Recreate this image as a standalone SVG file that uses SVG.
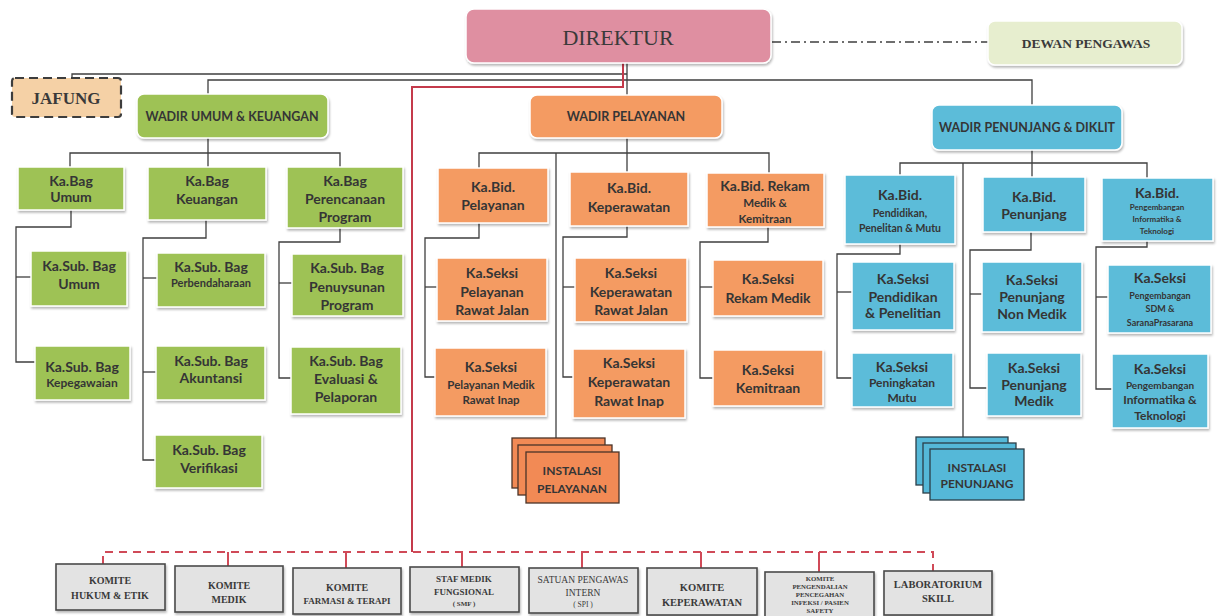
<svg xmlns="http://www.w3.org/2000/svg" width="1219" height="616" viewBox="0 0 1219 616">
<defs>
<filter id="sh" x="-10%" y="-10%" width="125%" height="140%">
<feDropShadow dx="1" dy="2" stdDeviation="1.2" flood-color="#000" flood-opacity="0.28"/>
</filter>
<style>
.g{fill:#9ec254;stroke:#fff;stroke-width:1.5;filter:url(#sh)}
.o{fill:#f49b62;stroke:#fff;stroke-width:1.5;filter:url(#sh)}
.b{fill:#5cbcd9;stroke:#fff;stroke-width:1.5;filter:url(#sh)}
.oi{fill:#f28a55;stroke:#4a3428;stroke-width:1.3}
.bi{fill:#55b8d8;stroke:#2c3e48;stroke-width:1.3}
.k{fill:#e3e3e3;stroke:#4a4a4a;stroke-width:1.6;filter:url(#sh)}
.t{font-family:Lato,"Open Sans",sans-serif;font-weight:700;fill:#353535;text-anchor:middle}
.s{font-family:"Liberation Serif","DejaVu Serif",serif;font-weight:700;fill:#3a3a3a;text-anchor:middle}
.sr{font-family:"Liberation Serif","DejaVu Serif",serif;fill:#3a3a3a;text-anchor:middle}
.ln{fill:none;stroke:#3f3f3f;stroke-width:1.3}
</style>
</defs>
<rect width="1219" height="616" fill="#ffffff"/>

<g id="connectors">
<polyline class="ln" points="627,63 627,95"/>
<polyline class="ln" points="72,78 72,74 627,74"/>
<polyline class="ln" points="208,94 208,80 1032,80 1032,105"/>
<polyline fill="none" stroke="#c43a4b" stroke-width="2" points="623,63 623,87 412,87 412,552"/>
<line x1="772" y1="42" x2="988" y2="42" stroke="#3f3f3f" stroke-width="1.5" stroke-dasharray="9,4,2,4"/>
<g fill="none" stroke="#d04a58" stroke-width="2" stroke-dasharray="8,6">
<polyline points="103,564 103,552 933,552 933,571"/>
</g>
<g fill="none" stroke="#d04a58" stroke-width="2">
<line x1="228" y1="552" x2="228" y2="566"/>
<line x1="346" y1="552" x2="346" y2="568"/>
<line x1="462" y1="552" x2="462" y2="567"/>
<line x1="582" y1="552" x2="582" y2="568"/>
<line x1="701" y1="552" x2="701" y2="568"/>
<line x1="819" y1="552" x2="819" y2="572"/>
</g>
<!-- left -->
<polyline class="ln" points="208,138 208,153"/>
<polyline class="ln" points="70,167 70,153 340,153 340,167"/>
<polyline class="ln" points="208,153 208,167"/>
<polyline class="ln" points="71,210 71,227 16,227 16,362 35,362"/>
<polyline class="ln" points="16,277 31,277"/>
<polyline class="ln" points="206,220 206,238 143,238 143,460 155,460"/>
<polyline class="ln" points="143,278 157,278"/>
<polyline class="ln" points="143,372 156,372"/>
<polyline class="ln" points="340,228 340,242 279,242 279,378 291,378"/>
<polyline class="ln" points="279,283 292,283"/>
<!-- middle -->
<polyline class="ln" points="627,138 627,153"/>
<polyline class="ln" points="479,168 479,153 769,153 769,173"/>
<polyline class="ln" points="627,153 627,172"/>
<polyline class="ln" points="556,153 556,438"/>
<polyline class="ln" points="479,223 479,238 425,238 425,377 435,377"/>
<polyline class="ln" points="425,287 437,287"/>
<polyline class="ln" points="627,226 627,237 563,237 563,377 573,377"/>
<polyline class="ln" points="563,287 575,287"/>
<polyline class="ln" points="768,227 768,242 700,242 700,378 713,378"/>
<polyline class="ln" points="700,287 713,287"/>
<!-- right -->
<polyline class="ln" points="1032,150 1032,163"/>
<polyline class="ln" points="900,175 900,163 1147,163 1147,178"/>
<polyline class="ln" points="1032,163 1032,177"/>
<polyline class="ln" points="963,163 963,437"/>
<polyline class="ln" points="900,244 900,254 837,254 837,378 852,378"/>
<polyline class="ln" points="837,292 852,292"/>
<polyline class="ln" points="1031,232 1031,250 970,250 970,388 987,388"/>
<polyline class="ln" points="970,294 982,294"/>
<polyline class="ln" points="1147,241 1147,247 1096,247 1096,389 1112,389"/>
<polyline class="ln" points="1096,297 1108,297"/>
</g>

<g id="direktur">
<rect x="466" y="9" width="305" height="54" rx="8" fill="#df8fa1" stroke="#fff" stroke-width="1.5" filter="url(#sh)"/>
<text class="sr" x="618" y="45" font-size="22" fill="#4a3a3e">DIREKTUR</text>
</g>
<g id="dewan-pengawas">
<rect x="988" y="21" width="194" height="44" rx="7" fill="#e7eecf" stroke="#fff" stroke-width="1.5" filter="url(#sh)"/>
<text class="s" x="1086" y="48" font-size="13.5">DEWAN PENGAWAS</text>
</g>
<g id="jafung">
<rect x="12" y="78" width="109" height="39" rx="3" fill="#f5d1a6" stroke="#3d3d3d" stroke-width="2.2" stroke-dasharray="9,5"/>
<text class="s" x="66" y="104" font-size="17">JAFUNG</text>
</g>
<g id="wadir-umum">
<rect x="137" y="94" width="191" height="44" rx="7" class="g"/>
<text class="t" x="232" y="121" font-size="12.5">WADIR UMUM &amp; KEUANGAN</text>
</g>
<g id="wadir-pelayanan">
<rect x="530" y="95" width="192" height="43" rx="7" class="o"/>
<text class="t" x="626" y="121" font-size="12.5">WADIR PELAYANAN</text>
</g>
<g id="wadir-penunjang">
<rect x="932" y="105" width="190" height="45" rx="7" class="b"/>
<text class="t" x="1027" y="132" font-size="12.5">WADIR PENUNJANG &amp; DIKLIT</text>
</g>

<!-- left column -->
<g id="kabag-umum">
<rect x="18" y="167" width="106" height="43" class="g"/>
<text class="t" x="71" y="186" font-size="14">Ka.Bag</text>
<text class="t" x="71" y="202" font-size="14">Umum</text>
</g>
<g id="kabag-keuangan">
<rect x="148" y="167" width="118" height="53" class="g"/>
<text class="t" x="207" y="186" font-size="14">Ka.Bag</text>
<text class="t" x="207" y="204" font-size="14">Keuangan</text>
</g>
<g id="kabag-perencanaan">
<rect x="287" y="167" width="116" height="61" class="g"/>
<text class="t" x="345" y="186" font-size="14">Ka.Bag</text>
<text class="t" x="345" y="204" font-size="14">Perencanaan</text>
<text class="t" x="345" y="222" font-size="14">Program</text>
</g>
<g id="kasubbag-umum">
<rect x="31" y="251" width="96" height="55" class="g"/>
<text class="t" x="79" y="271" font-size="14">Ka.Sub. Bag</text>
<text class="t" x="79" y="289" font-size="14">Umum</text>
</g>
<g id="kasubbag-kepegawaian">
<rect x="35" y="346" width="95" height="54" class="g"/>
<text class="t" x="82" y="372" font-size="14">Ka.Sub. Bag</text>
<text class="t" x="82" y="387" font-size="12">Kepegawaian</text>
</g>
<g id="kasubbag-perbendaharaan">
<rect x="157" y="253" width="108" height="54" class="g"/>
<text class="t" x="211" y="272" font-size="14">Ka.Sub. Bag</text>
<text class="t" x="211" y="287" font-size="11">Perbendaharaan</text>
</g>
<g id="kasubbag-akuntansi">
<rect x="156" y="346" width="109" height="54" class="g"/>
<text class="t" x="211" y="366" font-size="14">Ka.Sub. Bag</text>
<text class="t" x="211" y="383" font-size="14">Akuntansi</text>
</g>
<g id="kasubbag-verifikasi">
<rect x="155" y="435" width="107" height="53" class="g"/>
<text class="t" x="209" y="455" font-size="14">Ka.Sub. Bag</text>
<text class="t" x="209" y="473" font-size="14">Verifikasi</text>
</g>
<g id="kasubbag-penyusunan">
<rect x="292" y="254" width="111" height="62" class="g"/>
<text class="t" x="347" y="273" font-size="14">Ka.Sub. Bag</text>
<text class="t" x="347" y="292" font-size="14">Penuysunan</text>
<text class="t" x="347" y="310" font-size="14">Program</text>
</g>
<g id="kasubbag-evaluasi">
<rect x="291" y="347" width="110" height="67" class="g"/>
<text class="t" x="346" y="366" font-size="14">Ka.Sub. Bag</text>
<text class="t" x="346" y="384" font-size="14">Evaluasi &amp;</text>
<text class="t" x="346" y="402" font-size="14">Pelaporan</text>
</g>

<!-- middle column -->
<g id="kabid-pelayanan">
<rect x="438" y="168" width="110" height="55" class="o"/>
<text class="t" x="493" y="192" font-size="14">Ka.Bid.</text>
<text class="t" x="493" y="210" font-size="14">Pelayanan</text>
</g>
<g id="kabid-keperawatan">
<rect x="570" y="172" width="118" height="54" class="o"/>
<text class="t" x="629" y="193" font-size="14">Ka.Bid.</text>
<text class="t" x="629" y="212" font-size="14">Keperawatan</text>
</g>
<g id="kabid-rekam">
<rect x="707" y="173" width="117" height="54" class="o"/>
<text class="t" x="765" y="191" font-size="14">Ka.Bid. Rekam</text>
<text class="t" x="765" y="207" font-size="11.5">Medik &amp;</text>
<text class="t" x="765" y="223" font-size="11.5">Kemitraan</text>
</g>
<g id="kaseksi-pelayanan-rj">
<rect x="437" y="258" width="110" height="63" class="o"/>
<text class="t" x="492" y="278" font-size="14">Ka.Seksi</text>
<text class="t" x="492" y="297" font-size="14">Pelayanan</text>
<text class="t" x="492" y="315" font-size="14">Rawat Jalan</text>
</g>
<g id="kaseksi-pelayanan-ri">
<rect x="435" y="348" width="111" height="68" class="o"/>
<text class="t" x="491" y="372" font-size="14">Ka.Seksi</text>
<text class="t" x="491" y="389" font-size="11.5">Pelayanan Medik</text>
<text class="t" x="491" y="404" font-size="11.5">Rawat Inap</text>
</g>
<g id="kaseksi-keperawatan-rj">
<rect x="575" y="258" width="112" height="64" class="o"/>
<text class="t" x="631" y="278" font-size="14">Ka.Seksi</text>
<text class="t" x="631" y="297" font-size="14">Keperawatan</text>
<text class="t" x="631" y="315" font-size="14">Rawat Jalan</text>
</g>
<g id="kaseksi-keperawatan-ri">
<rect x="573" y="349" width="112" height="69" class="o"/>
<text class="t" x="629" y="368" font-size="14">Ka.Seksi</text>
<text class="t" x="629" y="387" font-size="14">Keperawatan</text>
<text class="t" x="629" y="406" font-size="14">Rawat Inap</text>
</g>
<g id="kaseksi-rekam-medik">
<rect x="713" y="260" width="110" height="56" class="o"/>
<text class="t" x="768" y="284" font-size="14">Ka.Seksi</text>
<text class="t" x="768" y="303" font-size="14">Rekam Medik</text>
</g>
<g id="kaseksi-kemitraan">
<rect x="713" y="350" width="110" height="56" class="o"/>
<text class="t" x="768" y="375" font-size="14">Ka.Seksi</text>
<text class="t" x="768" y="393" font-size="14">Kemitraan</text>
</g>
<g id="instalasi-pelayanan">
<rect x="512" y="438" width="93" height="50" class="oi"/>
<rect x="518" y="445" width="94" height="50" class="oi"/>
<rect x="526" y="452" width="93" height="51" class="oi"/>
<text class="t" x="572" y="475" font-size="12">INSTALASI</text>
<text class="t" x="572" y="493" font-size="12">PELAYANAN</text>
</g>

<!-- right column -->
<g id="kabid-pendidikan">
<rect x="845" y="175" width="110" height="69" class="b"/>
<text class="t" x="900" y="200" font-size="14">Ka.Bid.</text>
<text class="t" x="900" y="217" font-size="10.5">Pendidikan,</text>
<text class="t" x="900" y="232" font-size="10.5">Penelitan &amp; Mutu</text>
</g>
<g id="kabid-penunjang">
<rect x="983" y="177" width="102" height="55" class="b"/>
<text class="t" x="1034" y="202" font-size="14">Ka.Bid.</text>
<text class="t" x="1034" y="219" font-size="14">Penunjang</text>
</g>
<g id="kabid-pengembangan">
<rect x="1102" y="178" width="111" height="63" class="b"/>
<text class="t" x="1157" y="198" font-size="14">Ka.Bid.</text>
<text class="t" x="1157" y="210" font-size="8">Pengembangan</text>
<text class="t" x="1157" y="222" font-size="8">Informatika &amp;</text>
<text class="t" x="1157" y="234" font-size="8">Teknologi</text>
</g>
<g id="kaseksi-pendidikan">
<rect x="852" y="262" width="102" height="68" class="b"/>
<text class="t" x="903" y="284" font-size="14">Ka.Seksi</text>
<text class="t" x="903" y="302" font-size="14">Pendidikan</text>
<text class="t" x="903" y="318" font-size="14">&amp; Penelitian</text>
</g>
<g id="kaseksi-mutu">
<rect x="852" y="353" width="101" height="54" class="b"/>
<text class="t" x="902" y="372" font-size="14">Ka.Seksi</text>
<text class="t" x="902" y="387" font-size="12">Peningkatan</text>
<text class="t" x="902" y="402" font-size="12">Mutu</text>
</g>
<g id="kaseksi-nonmedik">
<rect x="982" y="262" width="100" height="70" class="b"/>
<text class="t" x="1032" y="285" font-size="14">Ka.Seksi</text>
<text class="t" x="1032" y="302" font-size="14">Penunjang</text>
<text class="t" x="1032" y="319" font-size="14">Non Medik</text>
</g>
<g id="kaseksi-medik">
<rect x="987" y="353" width="94" height="63" class="b"/>
<text class="t" x="1034" y="373" font-size="14">Ka.Seksi</text>
<text class="t" x="1034" y="390" font-size="14">Penunjang</text>
<text class="t" x="1034" y="406" font-size="14">Medik</text>
</g>
<g id="kaseksi-sdm">
<rect x="1108" y="265" width="103" height="68" class="b"/>
<text class="t" x="1160" y="283" font-size="14">Ka.Seksi</text>
<text class="t" x="1160" y="299" font-size="9">Pengembangan</text>
<text class="t" x="1160" y="312" font-size="9">SDM &amp;</text>
<text class="t" x="1160" y="326" font-size="9">SaranaPrasarana</text>
</g>
<g id="kaseksi-informatika">
<rect x="1112" y="354" width="96" height="74" class="b"/>
<text class="t" x="1160" y="374" font-size="14">Ka.Seksi</text>
<text class="t" x="1160" y="389" font-size="10">Pengembangan</text>
<text class="t" x="1160" y="404" font-size="12">Informatika &amp;</text>
<text class="t" x="1160" y="420" font-size="12">Teknologi</text>
</g>
<g id="instalasi-penunjang">
<rect x="916" y="437" width="92" height="48" class="bi"/>
<rect x="923" y="443" width="93" height="50" class="bi"/>
<rect x="930" y="449" width="94" height="51" class="bi"/>
<text class="t" x="977" y="472" font-size="12">INSTALASI</text>
<text class="t" x="977" y="488" font-size="12">PENUNJANG</text>
</g>

<!-- committees -->
<g id="komite-hukum">
<rect x="56" y="564" width="109" height="46" class="k"/>
<text class="s" x="110" y="584" font-size="10">KOMITE</text>
<text class="s" x="110" y="599" font-size="10">HUKUM &amp; ETIK</text>
</g>
<g id="komite-medik">
<rect x="175" y="566" width="108" height="46" class="k"/>
<text class="s" x="229" y="589" font-size="10">KOMITE</text>
<text class="s" x="229" y="603" font-size="10">MEDIK</text>
</g>
<g id="komite-farmasi">
<rect x="293" y="568" width="108" height="46" class="k"/>
<text class="s" x="347" y="591" font-size="10">KOMITE</text>
<text class="s" x="347" y="604" font-size="9">FARMASI &amp; TERAPI</text>
</g>
<g id="smf">
<rect x="410" y="567" width="109" height="45" class="k"/>
<text class="s" x="464" y="582" font-size="9">STAF MEDIK</text>
<text class="s" x="464" y="595" font-size="9">FUNGSIONAL</text>
<text class="s" x="464" y="606" font-size="7">( SMF )</text>
</g>
<g id="spi">
<rect x="529" y="568" width="109" height="45" class="k"/>
<text class="sr" x="583" y="583" font-size="9.5">SATUAN PENGAWAS</text>
<text class="sr" x="583" y="596" font-size="9.5">INTERN</text>
<text class="sr" x="583" y="607" font-size="7.5">( SPI )</text>
</g>
<g id="komite-keperawatan">
<rect x="647" y="568" width="110" height="47" class="k"/>
<text class="s" x="702" y="591" font-size="10.5">KOMITE</text>
<text class="s" x="702" y="606" font-size="10.5">KEPERAWATAN</text>
</g>
<g id="komite-ppi">
<rect x="765" y="572" width="109" height="60" class="k"/>
<text class="s" x="820" y="580.5" font-size="6.8">KOMITE</text>
<text class="s" x="820" y="588.5" font-size="6.8">PENGENDALIAN</text>
<text class="s" x="820" y="596.5" font-size="6.8">PENCEGAHAN</text>
<text class="s" x="820" y="604.5" font-size="6.8">INFEKSI / PASIEN</text>
<text class="s" x="820" y="612.5" font-size="6.8">SAFETY</text>
</g>
<g id="laboratorium-skill">
<rect x="884" y="571" width="108" height="44" class="k"/>
<text class="s" x="938" y="588" font-size="10.5">LABORATORIUM</text>
<text class="s" x="938" y="602" font-size="10.5">SKILL</text>
</g>
</svg>
